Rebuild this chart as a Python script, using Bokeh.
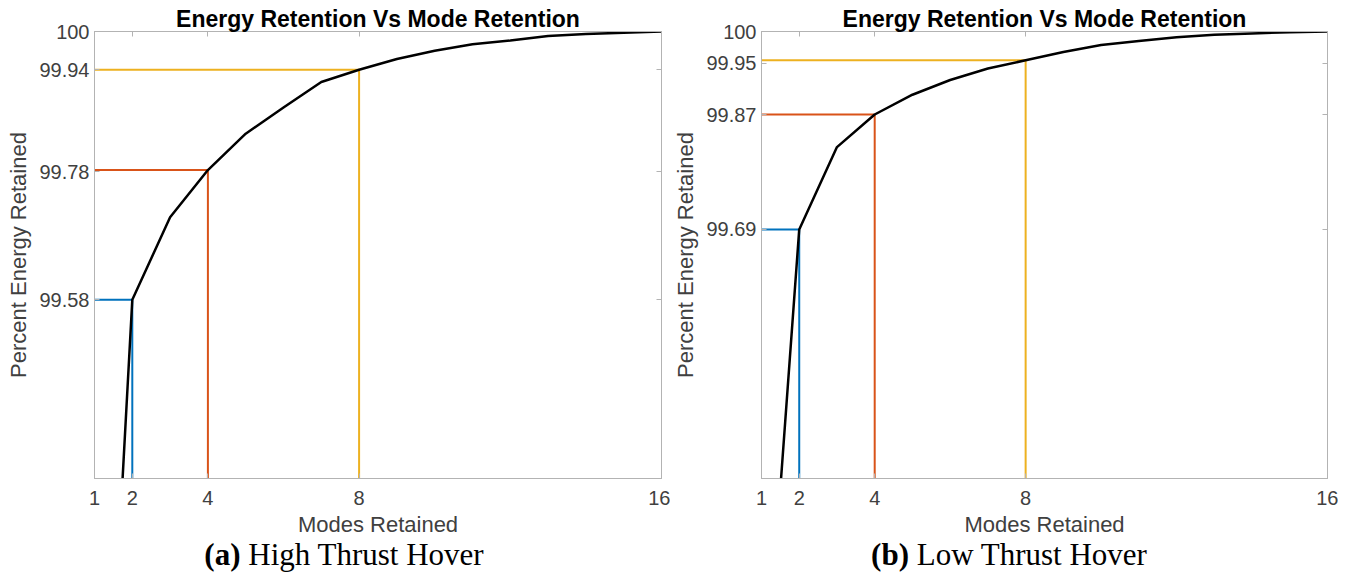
from bokeh.plotting import figure
from bokeh.models import Range1d, FixedTicker, LinearAxis, CustomJSTickFormatter, Div
from bokeh.layouts import row, column
from bokeh.embed import file_html
from bokeh.resources import INLINE

# ---------------- data ----------------
modes = list(range(1, 17))
energy_high = [98.49, 99.58, 99.709, 99.783, 99.840, 99.881, 99.921, 99.940,
               99.957, 99.970, 99.980, 99.986, 99.993, 99.996, 99.998, 100.0]
energy_low = [98.88, 99.69, 99.819, 99.870, 99.901, 99.924, 99.942, 99.955,
              99.968, 99.979, 99.985, 99.991, 99.995, 99.997, 99.999, 100.0]
marked_modes = [2, 4, 8]
marked_colors = ["#0072BD", "#D95319", "#EDB120"]
xticks = [1, 2, 4, 8, 16]
yticks_high = [99.58, 99.78, 99.94, 100.0]
ylabels_high = ["99.58", "99.78", "99.94", "100"]
yticks_low = [99.69, 99.87, 99.95, 100.0]
ylabels_low = ["99.69", "99.87", "99.95", "100"]
title_text = "Energy Retention Vs Mode Retention"
x_label = "Modes Retained"
y_label = "Percent Energy Retained"
captions = [("(a)", "High Thrust Hover"), ("(b)", "Low Thrust Hover")]
y_min, y_max = 99.3, 100.0

AX = "#b3b3b3"
TXT = "#404040"
FONT = "Liberation Sans"

blank_fmt_code = "return '';"


def make_panel(energy, yticks, ylabels, frame_w, border_l, border_r):
    p = figure(frame_width=frame_w, frame_height=447,
               x_range=Range1d(modes[0], modes[-1]), y_range=Range1d(y_min, y_max),
               output_backend="svg", toolbar_location=None,
               min_border_left=border_l, min_border_right=border_r,
               min_border_top=31, min_border_bottom=58,
               background_fill_color="white", border_fill_color="white")
    p.title.text = title_text
    p.title.align = "center"
    p.title.text_font = FONT
    p.title.text_font_size = "23px"
    p.title.text_font_style = "bold"
    p.title.text_color = "#000000"
    p.title.standoff = 0
    p.xgrid.visible = False
    p.ygrid.visible = False
    p.outline_line_color = AX

    fmt = CustomJSTickFormatter(args=dict(vals=yticks, labels=ylabels), code="""
        for (let i = 0; i < vals.length; i++) {
            if (Math.abs(vals[i] - tick) < 1e-6) { return labels[i]; }
        }
        return tick.toFixed(2);
    """)

    for ax in p.xaxis:
        ax.ticker = FixedTicker(ticks=xticks)
        ax.axis_label = x_label
    for ax in p.yaxis:
        ax.ticker = FixedTicker(ticks=yticks)
        ax.formatter = fmt
        ax.axis_label = y_label
    for ax in list(p.xaxis) + list(p.yaxis):
        ax.axis_line_color = AX
        ax.major_tick_line_color = AX
        ax.major_tick_in = 5
        ax.major_tick_out = 0
        ax.minor_tick_line_color = None
        ax.major_label_text_font = FONT
        ax.major_label_text_font_size = "20px"
        ax.major_label_text_color = TXT
        ax.axis_label_text_font = FONT
        ax.axis_label_text_font_size = "22px"
        ax.axis_label_text_font_style = "normal"
        ax.axis_label_text_color = TXT
    for ax in p.xaxis:
        ax.major_label_standoff = 12
        ax.axis_label_standoff = 4
    for ax in p.yaxis:
        ax.major_label_standoff = 5
        ax.axis_label_standoff = 5

    # box axes (ticks only) on right and top
    right = LinearAxis(ticker=FixedTicker(ticks=yticks),
                       formatter=CustomJSTickFormatter(code=blank_fmt_code))
    top = LinearAxis(ticker=FixedTicker(ticks=xticks),
                     formatter=CustomJSTickFormatter(code=blank_fmt_code))
    for ax in (right, top):
        ax.axis_line_color = AX
        ax.major_tick_line_color = AX
        ax.major_tick_in = 5
        ax.major_tick_out = 0
        ax.minor_tick_line_color = None
        ax.major_label_text_font_size = "4px"
        ax.major_label_standoff = 0
    p.add_layout(right, "right")
    p.add_layout(top, "above")

    # reference lines at marked modes
    for m, c in zip(marked_modes, marked_colors):
        v = energy[modes.index(m)]
        p.line([modes[0], m, m], [v, v, y_min], line_color=c, line_width=2)

    p.line(modes, energy, line_color="#000000", line_width=2.5)
    return p


pa = make_panel(energy_high, yticks_high, ylabels_high, 567, 88, 9)
pb = make_panel(energy_low, yticks_low, ylabels_low, 566, 91, 11)


def caption_div(tag, text, w, shift):
    return Div(text=f"<b>{tag}</b> {text}", width=w, margin=(0, 0, 0, 0),
               styles={"font-family": "Liberation Serif", "font-size": "31px",
                       "text-align": "center", "line-height": "1.0",
                       "color": "#000000", "width": f"{w}px",
                       "padding-left": f"{shift}px", "box-sizing": "border-box"})


ca = caption_div(captions[0][0], captions[0][1], 664, 18)
cb = caption_div(captions[1][0], captions[1][1], 668, 10)

layout = row(column(pa, ca, spacing=0), column(pb, cb, spacing=0), spacing=0,
             margin=(0, 0, 0, 3))

open("out.html", "w").write(file_html(layout, INLINE))
